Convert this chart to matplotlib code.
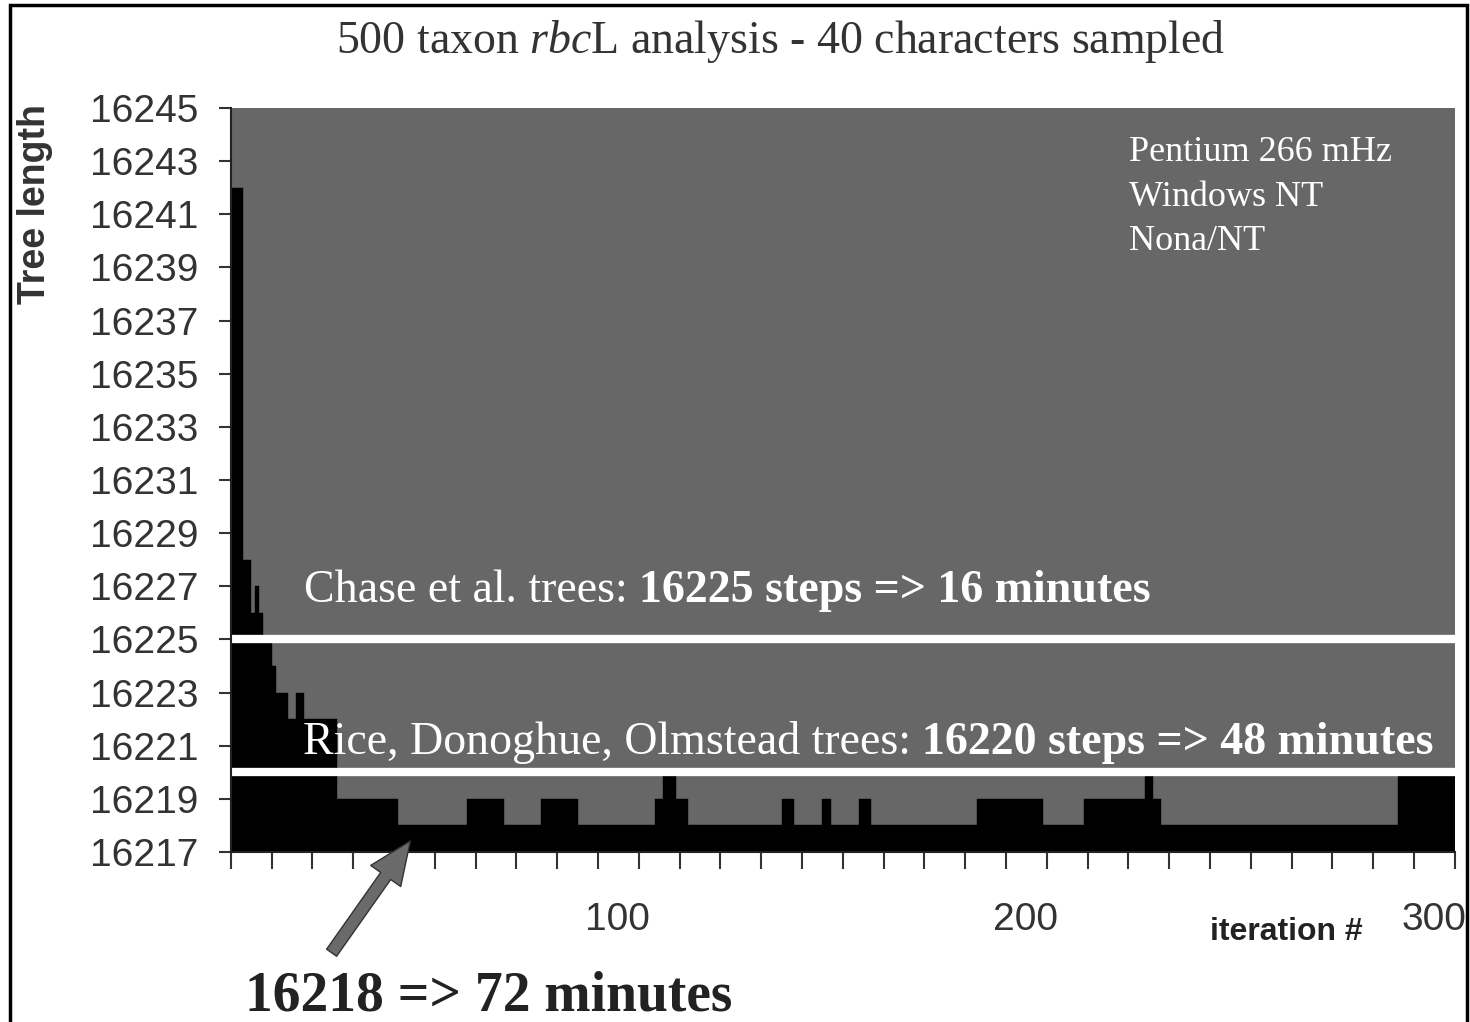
import numpy as np
import matplotlib
matplotlib.use("Agg")
import matplotlib.pyplot as plt
import matplotlib.transforms as mtransforms
from matplotlib.patches import Rectangle

plt.rcParams['mathtext.fontset'] = 'custom'
plt.rcParams['mathtext.rm'] = 'Liberation Serif'
plt.rcParams['mathtext.it'] = 'Liberation Serif:italic'
plt.rcParams['mathtext.bf'] = 'Liberation Serif:bold'

#
# Data: tree length per iteration, run-length encoded
#
run_lengths = [3, 2, 1, 1, 1, 2, 1, 3, 2, 2, 8, 15, 17, 9, 9, 9, 19, 2, 3, 3,
               23, 3, 7, 2, 7, 3, 26, 16, 10, 15, 2, 2, 58, 14]
run_values = [16242, 16228, 16226, 16227, 16226, 16225, 16224, 16223, 16222, 16223,
              16222, 16219, 16218, 16219, 16218, 16219, 16218, 16219, 16220, 16219,
              16218, 16219, 16218, 16219, 16218, 16219, 16218, 16219, 16218, 16219,
              16220, 16219, 16218, 16220]
tree_length = np.repeat(run_values, run_lengths)
iteration = np.arange(1, len(tree_length) + 1)

chase_len = 16225
rice_len = 16220
best_len = 16218
best_iter = 44.4

y_ticks = list(range(16217, 16246, 2))
x_labels = [100, 200, 300]

title_txt = "500 taxon $\\mathit{rbc}$L analysis - 40 characters sampled"
machine_txt = "Pentium 266 mHz\nWindows NT\nNona/NT"

#
# Figure
#
fig = plt.figure(figsize=(14.7, 10.22), dpi=100)
ax = fig.add_axes([0.157, 0.1663, 0.8327, 0.728])
ax.set_facecolor('#676767')

base = y_ticks[0]
ax.bar(iteration - 1, tree_length - base, bottom=base, width=1.0, align='edge',
       color='black', edgecolor='black', linewidth=0.3)

ax.axhline(chase_len, color='white', lw=6)
ax.axhline(rice_len, color='white', lw=6)

ax.set_xlim(0, 300)
ax.set_ylim(y_ticks[0], y_ticks[-1])

# axes
for s in ['top', 'right']:
    ax.spines[s].set_visible(False)
for s in ['left', 'bottom']:
    ax.spines[s].set_linewidth(1.5)
    ax.spines[s].set_color('#222222')

ax.set_yticks(y_ticks)
ax.tick_params(axis='y', direction='out', length=9, width=1.5, pad=14,
               labelsize=28, labelcolor='#333333', color='#333333')
ax.set_xticks(x_labels)
ax.set_xticks(np.arange(0, 301, 10), minor=True)
ax.tick_params(axis='x', which='both', direction='out', length=12, width=1.5,
               color='#333333')
ax.tick_params(axis='x', which='major', pad=24, labelsize=28, labelcolor='#333333')
for lab in ax.get_yticklabels() + ax.get_xticklabels():
    lab.set_family('Liberation Sans')
offset = mtransforms.ScaledTranslation(-0.21, 0, fig.dpi_scale_trans)
for lab in ax.get_xticklabels():
    lab.set_transform(lab.get_transform() + offset)

# labels
fig.text(0.531, 0.959, title_txt, ha='center', va='center', fontsize=33,
         family='Liberation Serif', color='#333333')
fig.text(0.024, 0.80, "Tree length", rotation=90, ha='center', va='center',
         fontsize=27, fontweight='bold', family='Liberation Sans', color='#333333')
fig.text(0.875, 0.088, "iteration #", ha='center', va='center', fontsize=23,
         fontweight='bold', family='Liberation Sans', color='#222222')

ax.text(0.734, 0.962, machine_txt, transform=ax.transAxes, ha='left', va='top',
        fontsize=26, family='Liberation Serif', color='white', linespacing=1.45)

# annotations on the reference lines
t1 = ax.text(18, 16226.4, "Chase et al. trees: ", ha='left', va='baseline',
             fontsize=33, family='Liberation Serif', color='white')
ax.annotate("%d steps => 16 minutes" % chase_len, xy=(1, 0), xycoords=t1,
            ha='left', va='bottom', fontsize=33, fontweight='bold',
            family='Liberation Serif', color='white')
t2 = ax.text(17.6, 16220.7, "Rice, Donoghue, Olmstead trees: ", ha='left',
             va='baseline', fontsize=33, family='Liberation Serif', color='white')
ax.annotate("%d steps => 48 minutes" % rice_len, xy=(1, 0), xycoords=t2,
            ha='left', va='bottom', fontsize=33, fontweight='bold',
            family='Liberation Serif', color='white')

# arrow to the best tree
ax.annotate("", xy=(best_iter, best_len - 0.5), xycoords='data',
            xytext=(330 / 1470, 1 - 955 / 1022), textcoords='figure fraction',
            arrowprops=dict(arrowstyle="simple,head_length=1.4,head_width=1.2,tail_width=0.4",
                            fc='#6a6a6a', ec='#333333', lw=1, mutation_scale=22),
            annotation_clip=False)
fig.text(0.167, 0.011, "%d => 72 minutes" % best_len, ha='left', va='baseline',
         fontsize=40, fontweight='bold', family='Liberation Serif', color='#222222')

# frame around the figure
fig.patches.append(Rectangle((0.007, -0.01), 0.991, 1.005, transform=fig.transFigure,
                             fill=False, ec='black', lw=2.5))

plt.savefig("out.png", dpi=100)
